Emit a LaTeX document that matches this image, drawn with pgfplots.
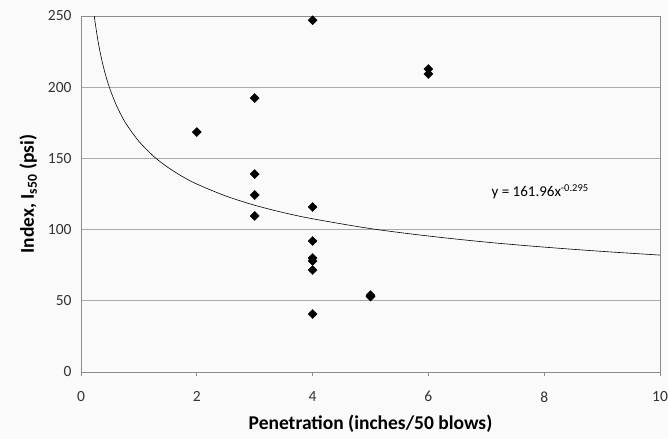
\documentclass[border=0pt]{standalone}
\usepackage{pgfplots}
\pgfplotsset{compat=1.18}
\usepackage{fontspec}
\setmainfont{Carlito}
\definecolor{bg}{RGB}{250,250,250}
\definecolor{gridc}{RGB}{170,170,170}
\definecolor{axc}{RGB}{140,140,140}
\definecolor{txt}{RGB}{50,50,50}
\begin{document}
\begin{tikzpicture}
\fill[bg] (-81bp,-67bp) rectangle (587bp,372bp);
\useasboundingbox (-81bp,-67bp) rectangle (587bp,372bp);
\begin{axis}[
  scale only axis,
  width=579bp, height=356bp,
  xmin=0, xmax=10, ymin=0, ymax=250,
  xtick={0,2,4,6,8,10},
  ytick={0,50,100,150,200,250},
  ymajorgrids,
  grid style={gridc, line width=0.8pt},
  axis line style={axc, line width=0.8pt},
  axis lines*=left,
  x tick style={axc, line width=0.8pt},
  xtick align=outside,
  major tick length=4bp,
  y tick style={draw=none},
  /pgf/number format/assume math mode=true,
  tick label style={font=\fontsize{15.5bp}{18bp}\selectfont, text=txt},
  xticklabel style={yshift=-12bp},
  yticklabel style={xshift=-6bp},
  xlabel={\textbf{Penetration (inches/50 blows)}},
  ylabel={\textbf{Index, I\textsubscript{s50} (psi)}},
  label style={font=\fontsize{19.5bp}{23bp}\selectfont},
  xlabel style={yshift=-6bp},
  ylabel style={yshift=4bp},
  clip=false,
]
\draw[axc, line width=0.8pt] (axis cs:0,250) -- (axis cs:10,250) -- (axis cs:10,0);
\addplot[black, line width=0.6pt, smooth] coordinates {
 (0.23,249.9) (0.25,243.8) (0.3,231.0) (0.35,220.8) (0.4,212.2) (0.45,205.0)
 (0.5,198.7) (0.6,188.3) (0.7,179.9) (0.8,173.0) (1,161.96) (1.25,151.6)
 (1.5,143.7) (1.75,137.3) (2,132.0) (2.5,123.6) (3,117.1) (3.5,111.9)
 (4,107.6) (5,100.7) (6,95.5) (7,91.2) (8,87.7) (9,84.7) (10,82.1)
};
\addplot[only marks, mark=square*, mark size=3.2bp, mark options={rotate=45, fill=black, draw=black}] coordinates {
 (2,168.5) (3,192.4) (3,139) (3,124.3) (3,109.6)
 (4,247) (4,115.9) (4,92) (4,80) (4,78) (4,71.6) (4,40.7)
 (5,53) (5,54) (6,212.8) (6,209.3)
};
\node[font=\fontsize{15bp}{18bp}\selectfont, text=black] at (axis cs:7.93,126.4) {y = 161.96x\textsuperscript{-0.295}};
\end{axis}
\end{tikzpicture}
\end{document}
